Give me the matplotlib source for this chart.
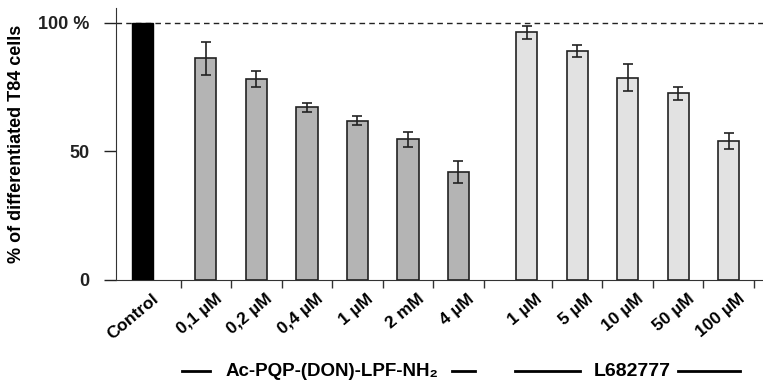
import matplotlib
matplotlib.use("Agg")
import matplotlib.pyplot as plt
from matplotlib.lines import Line2D
from matplotlib.transforms import ScaledTranslation

plt.rcParams['font.family'] = ['Liberation Sans', 'DejaVu Sans']
plt.rcParams['font.weight'] = 'bold'

# data
control_label = ["Control"]
control_value = [100]

pep_labels = ["0,1 \u00b5M", "0,2 \u00b5M", "0,4 \u00b5M", "1 \u00b5M", "2 mM", "4 \u00b5M"]
pep_values = [86.3, 78.2, 67.2, 62.0, 54.7, 41.9]
pep_err = [6.4, 3.1, 1.8, 1.8, 2.9, 4.2]

l68_labels = ["1 \u00b5M", "5 \u00b5M", "10 \u00b5M", "50 \u00b5M", "100 \u00b5M"]
l68_values = [96.4, 89.0, 78.7, 72.6, 54.0]
l68_err = [2.6, 2.4, 5.2, 2.5, 3.1]

# x positions
x_ctrl = [0]
x_pep = [1.25 + i for i in range(len(pep_values))]
x_l68 = [7.6 + i for i in range(len(l68_values))]

fig = plt.figure(figsize=(7.63, 3.83), dpi=100)
ax = fig.add_axes([0.152, 0.269, 0.848, 0.71])

w = 0.42
ax.bar(x_ctrl, control_value, width=w, color='black', edgecolor='black', zorder=3)
ax.bar(x_pep, pep_values, width=w, color='#b4b4b4', edgecolor='#222222', linewidth=1.2,
       yerr=pep_err, error_kw=dict(ecolor='#222222', elinewidth=1.2, capsize=3.5, capthick=1.2), zorder=3)
ax.bar(x_l68, l68_values, width=w, color='#e2e2e2', edgecolor='#222222', linewidth=1.2,
       yerr=l68_err, error_kw=dict(ecolor='#222222', elinewidth=1.2, capsize=3.5, capthick=1.2), zorder=3)

ax.axhline(100, color='#222222', linestyle=(0, (4, 3)), linewidth=1.0, zorder=1)

ax.set_xlim(-0.53, 12.28)
ax.set_ylim(0, 105.8)

ax.spines['top'].set_visible(False)
ax.spines['right'].set_visible(False)
ax.spines['left'].set_color('#333333')
ax.spines['bottom'].set_color('#333333')

ax.set_yticks([0, 50, 100])
ax.set_yticklabels(["0", "50", "100 %"], fontsize=13, fontweight='bold')
ax.tick_params(axis='y', direction='out', length=9, width=1, pad=10, colors='#222222')

all_x = x_ctrl + x_pep + x_l68
all_labels = control_label + pep_labels + l68_labels
ax.set_xticks(all_x)
ax.set_xticklabels(all_labels, rotation=40, ha='right', rotation_mode='anchor', fontsize=12.5, fontweight='bold')
ax.tick_params(axis='x', length=0, pad=8)
shift = ScaledTranslation(0.09, 0, fig.dpi_scale_trans)
for lab in ax.get_xticklabels():
    lab.set_transform(lab.get_transform() + shift)
seps = [0.75] + [x + 0.5 for x in x_pep] + [x + 0.5 for x in x_l68]
ax.set_xticks(seps, minor=True)
ax.tick_params(axis='x', which='minor', direction='out', length=6, width=1, color='#333333')

ax.set_ylabel("% of differentiated T84 cells", fontsize=13, fontweight='bold')
ax.yaxis.set_label_coords(-0.141, 0.5)

# group labels under the axis
fig.text(0.435, 0.029, "Ac-PQP-(DON)-LPF-NH\u2082", ha='center', va='center', fontsize=13.5, fontweight='bold')
fig.add_artist(Line2D([0.2385, 0.275], [0.031, 0.031], color='black', lw=2))
fig.add_artist(Line2D([0.592, 0.623], [0.031, 0.031], color='black', lw=2))
fig.text(0.829, 0.029, "L682777", ha='center', va='center', fontsize=14, fontweight='bold')
fig.add_artist(Line2D([0.675, 0.760], [0.031, 0.031], color='black', lw=2))
fig.add_artist(Line2D([0.889, 0.970], [0.031, 0.031], color='black', lw=2))

fig.savefig("out.png", dpi=100)
